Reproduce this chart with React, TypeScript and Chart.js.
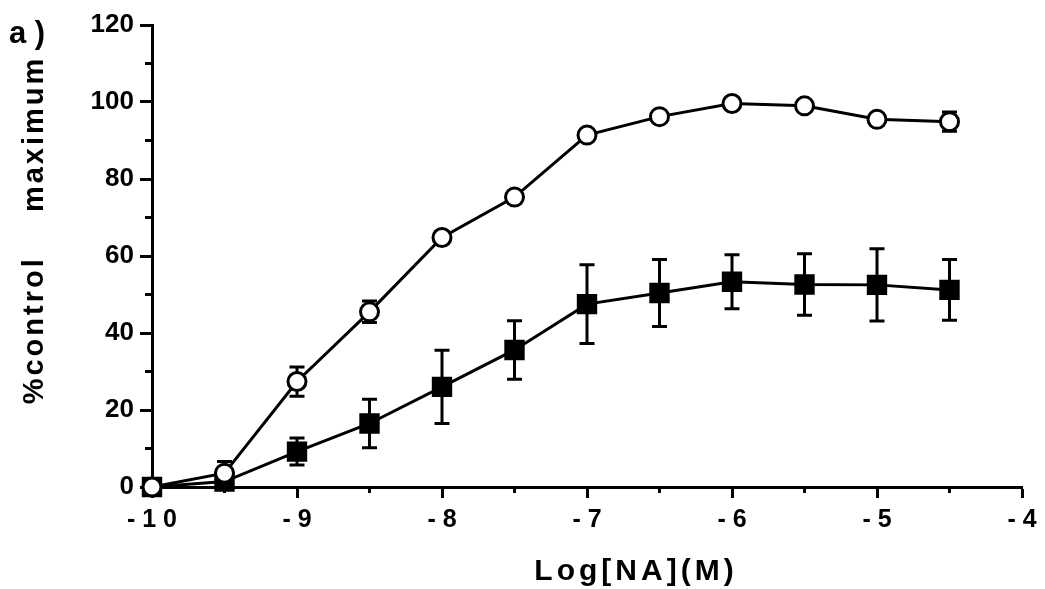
import React, { useEffect, useRef } from 'react';
import { Chart, registerables } from 'chart.js';

Chart.register(...registerables);

// ---- data ----
const logConc = [-10, -9.5, -9, -8.5, -8, -7.5, -7, -6.5, -6, -5.5, -5, -4.5];
const controlMean = [0, 3.6, 27.4, 45.5, 64.8, 75.3, 91.4, 96.2, 99.6, 99.0, 95.5, 94.9];
const controlErr = [0, 3.0, 3.8, 2.8, 1.5, 1.5, 1.2, 1.2, 1.0, 1.0, 1.2, 2.5];
const treatedMean = [0, 1.4, 9.2, 16.5, 26.0, 35.6, 47.5, 50.4, 53.3, 52.6, 52.5, 51.2];
const treatedErr = [0, 1.0, 3.5, 6.3, 9.5, 7.6, 10.2, 8.7, 7.0, 8.0, 9.4, 7.9];

const xTickValues = [-10, -9, -8, -7, -6, -5, -4];
const xTickLabels = ['- 1 0', '- 9', '- 8', '- 7', '- 6', '- 5', '- 4'];
const yTickValues = [0, 20, 40, 60, 80, 100, 120];
const yTickLabels = ['0', '20', '40', '60', '80', '100', '120'];

const panelLabel = 'a )';
const xTitle = 'Log[NA](M)';
const yTitle = '%control    maximum';

const FONT = '"Liberation Sans", Arial, Helvetica, sans-serif';

const findLabel = (vals: number[], labels: string[], v: number) => {
  const i = vals.findIndex((t) => Math.abs(t - v) < 1e-6);
  return i >= 0 ? labels[i] : '';
};
const isMajor = (vals: number[], v: number) => vals.some((t) => Math.abs(t - v) < 1e-6);

const errorBarPlugin = {
  id: 'errorBars',
  beforeDatasetDraw(chart: any, args: any) {
    const ds = chart.data.datasets[args.index];
    const errs: number[] | undefined = ds.errors;
    if (!errs) return;
    const xs = chart.scales.x;
    const ys = chart.scales.y;
    const ctx = chart.ctx;
    ctx.save();
    ctx.strokeStyle = '#000';
    ctx.lineWidth = 3;
    ds.data.forEach((p: any, i: number) => {
      const e = errs[i];
      if (!e) return;
      const px = xs.getPixelForValue(p.x);
      const top = ys.getPixelForValue(p.y + e);
      const bot = ys.getPixelForValue(p.y - e);
      const cap = 7.5;
      ctx.beginPath();
      ctx.moveTo(px, top);
      ctx.lineTo(px, bot);
      ctx.moveTo(px - cap, top);
      ctx.lineTo(px + cap, top);
      ctx.moveTo(px - cap, bot);
      ctx.lineTo(px + cap, bot);
      ctx.stroke();
    });
    ctx.restore();
  },
};

const decorPlugin = {
  id: 'decor',
  afterDraw(chart: any) {
    const { ctx, chartArea, scales } = chart;
    ctx.save();
    ctx.strokeStyle = '#000';
    ctx.lineWidth = 3;
    // minor ticks
    scales.x.ticks.forEach((t: any) => {
      if (isMajor(xTickValues, t.value)) return;
      const px = scales.x.getPixelForValue(t.value);
      ctx.beginPath();
      ctx.moveTo(px, chartArea.bottom);
      ctx.lineTo(px, chartArea.bottom + 6);
      ctx.stroke();
    });
    scales.y.ticks.forEach((t: any) => {
      if (isMajor(yTickValues, t.value)) return;
      const py = scales.y.getPixelForValue(t.value);
      ctx.beginPath();
      ctx.moveTo(chartArea.left - 7, py);
      ctx.lineTo(chartArea.left, py);
      ctx.stroke();
    });

    ctx.fillStyle = '#000';
    // panel label
    ctx.font = `bold 31px ${FONT}`;
    ctx.textAlign = 'left';
    ctx.textBaseline = 'alphabetic';
    ctx.fillText(panelLabel, 9, 43);

    // x title
    ctx.font = `bold 30px ${FONT}`;
    (ctx as any).letterSpacing = '4px';
    ctx.textAlign = 'center';
    ctx.fillText(xTitle, 636, 580);

    // y title
    ctx.font = `bold 29px ${FONT}`;
    (ctx as any).letterSpacing = '3px';
    ctx.translate(43, 230);
    ctx.rotate(-Math.PI / 2);
    ctx.textAlign = 'center';
    ctx.fillText(yTitle, 0, 0);
    ctx.restore();
  },
};

export default function App() {
  const ref = useRef<HTMLCanvasElement | null>(null);

  useEffect(() => {
    if (!ref.current) return;
    const chart = new Chart(ref.current, {
      type: 'line',
      data: {
        datasets: [
          {
            label: 'control',
            data: logConc.map((x, i) => ({ x, y: controlMean[i] })),
            errors: controlErr,
            borderColor: '#000',
            borderWidth: 3,
            pointStyle: 'circle',
            pointRadius: 9,
            pointBorderWidth: 3,
            pointBackgroundColor: '#fff',
            pointBorderColor: '#000',
            tension: 0,
            clip: false,
          } as any,
          {
            label: 'treated',
            data: logConc.map((x, i) => ({ x, y: treatedMean[i] })),
            errors: treatedErr,
            borderColor: '#000',
            borderWidth: 3,
            pointStyle: 'rect',
            pointRadius: 13,
            pointBorderWidth: 2,
            pointBackgroundColor: '#000',
            pointBorderColor: '#000',
            tension: 0,
            clip: false,
          } as any,
        ],
      },
      options: {
        animation: false,
        responsive: false,
        events: [],
        layout: { padding: { top: 25, right: 23, left: 0, bottom: 0 } },
        plugins: { legend: { display: false }, tooltip: { enabled: false }, title: { display: false } },
        scales: {
          x: {
            type: 'linear',
            position: 'bottom',
            min: -10,
            max: -4,
            afterFit: (s: any) => {
              s.height = 102;
            },
            border: { display: true, color: '#000', width: 3 },
            grid: {
              display: true,
              drawOnChartArea: false,
              drawTicks: true,
              tickLength: 11,
              tickWidth: 3,
              tickColor: (c: any) => (c.tick && isMajor(xTickValues, c.tick.value) ? '#000' : 'rgba(0,0,0,0)'),
            },
            ticks: {
              stepSize: 0.5,
              autoSkip: false,
              maxRotation: 0,
              minRotation: 0,
              padding: 7,
              color: '#000',
              font: { family: FONT, size: 25, weight: 'bold' },
              callback: (v: any) => findLabel(xTickValues, xTickLabels, Number(v)),
            },
          },
          y: {
            type: 'linear',
            min: 0,
            max: 120,
            afterFit: (s: any) => {
              s.width = 152;
            },
            border: { display: true, color: '#000', width: 3 },
            grid: {
              display: true,
              drawOnChartArea: false,
              drawTicks: true,
              tickLength: 12,
              tickWidth: 3,
              tickColor: (c: any) => (c.tick && isMajor(yTickValues, c.tick.value) ? '#000' : 'rgba(0,0,0,0)'),
            },
            ticks: {
              stepSize: 10,
              autoSkip: false,
              padding: 6,
              color: '#000',
              font: { family: FONT, size: 26, weight: 'bold' },
              callback: (v: any) => findLabel(yTickValues, yTickLabels, Number(v)),
            },
          },
        },
      } as any,
      plugins: [errorBarPlugin, decorPlugin],
    });
    return () => chart.destroy();
  }, []);

  return (
    <div style={{ position: 'absolute', left: 0, top: 0, width: 1045, height: 589, background: '#fff' }}>
      <canvas ref={ref} width={1045} height={589} style={{ display: 'block' }} />
    </div>
  );
}
